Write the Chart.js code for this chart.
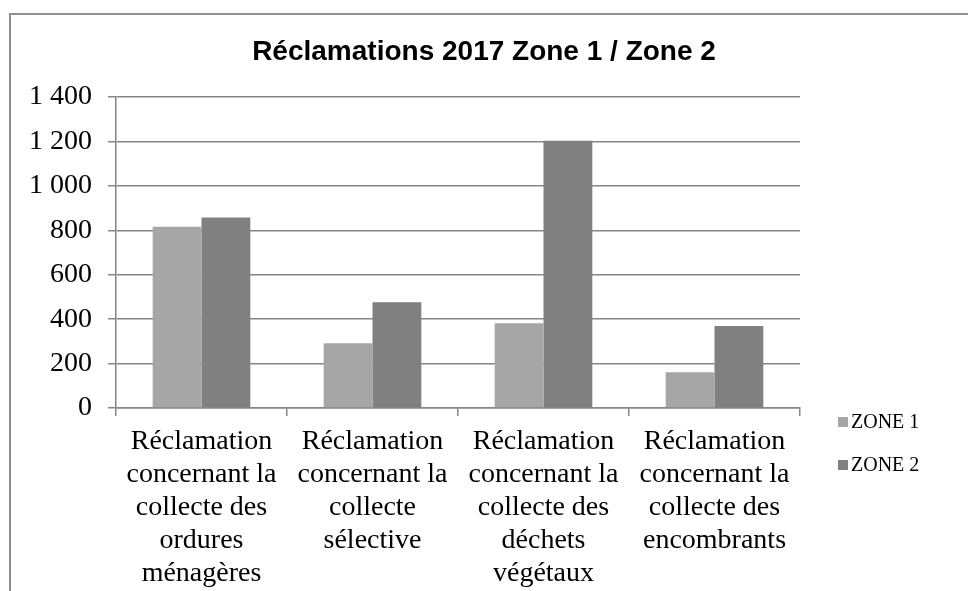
<!DOCTYPE html>
<html>
<head>
<meta charset="utf-8">
<script src="https://cdn.jsdelivr.net/npm/chart.js@4"></script>
<style>
  html, body { margin: 0; padding: 0; background: #fff; }
  #wrap { width: 968px; height: 591px; position: relative; }
</style>
</head>
<body>
<div id="wrap"><canvas id="c" width="968" height="591"></canvas></div>
<script>
const chartTitle = "Réclamations 2017 Zone 1 / Zone 2";
const categories = [
  ["Réclamation", "concernant la", "collecte des", "ordures", "ménagères"],
  ["Réclamation", "concernant la", "collecte", "sélective"],
  ["Réclamation", "concernant la", "collecte des", "déchets", "végétaux"],
  ["Réclamation", "concernant la", "collecte des", "encombrants"]
];
const seriesNames = ["ZONE 1", "ZONE 2"];
const zone1 = [816, 291, 381, 161];
const zone2 = [858, 476, 1203, 369];
const yTicks = [0, 200, 400, 600, 800, 1000, 1200, 1400];
const seriesColors = ["#a6a6a6", "#808080"];

function fmt(v) {
  return String(v).replace(/\B(?=(\d{3})+(?!\d))/g, " ");
}

const framePlugin = {
  id: "frame",
  beforeDraw(chart) {
    const ctx = chart.ctx;
    ctx.save();
    ctx.strokeStyle = "#8e8e8e";
    ctx.lineWidth = 2;
    ctx.strokeRect(10, 14, 2000, 2000);
    ctx.restore();
  }
};

const legendPlugin = {
  id: "customLegend",
  afterDraw(chart) {
    const ctx = chart.ctx;
    const ca = chart.chartArea;
    ctx.save();
    ctx.font = "20px 'Liberation Serif'";
    ctx.textBaseline = "middle";
    chart.data.datasets.forEach((ds, i) => {
      const y = ca.bottom + 14 + i * 43;
      const x = ca.right + 38;
      ctx.fillStyle = ds.backgroundColor;
      ctx.fillRect(x, y - 5, 10, 10);
      ctx.fillStyle = "#000";
      ctx.fillText(ds.label, x + 13, y + 1);
    });
    ctx.restore();
  }
};

new Chart(document.getElementById("c"), {
  type: "bar",
  data: {
    labels: categories,
    datasets: [
      { label: seriesNames[0], data: zone1, backgroundColor: seriesColors[0], yAxisID: "y" },
      { label: seriesNames[1], data: zone2, backgroundColor: seriesColors[1], yAxisID: "y" }
    ]
  },
  options: {
    responsive: false,
    animation: false,
    devicePixelRatio: 1,
    layout: { padding: { left: 0, right: 0, top: 0, bottom: 0 } },
    datasets: { bar: { categoryPercentage: 0.571, barPercentage: 1.0 } },
    plugins: {
      legend: { display: false },
      tooltip: { enabled: false },
      title: {
        display: true,
        text: chartTitle,
        color: "#000",
        font: { family: "'Liberation Sans', Arial, sans-serif", size: 28, weight: "bold", lineHeight: 1.2 },
        padding: { top: 35, bottom: 28.4 }
      }
    },
    scales: {
      x: {
        offset: true,
        afterFit(scale) { scale.height = 183; },
        grid: { display: true, offset: true, drawOnChartArea: false, drawTicks: true, tickLength: 8, color: "#868686", lineWidth: 1.5 },
        border: { display: true, color: "#868686", width: 1.5 },
        ticks: {
          color: "#000",
          font: { family: "'Liberation Serif', serif", size: 28, lineHeight: 1.18 },
          padding: 9,
          maxRotation: 0,
          autoSkip: false
        }
      },
      y: {
        min: 0,
        max: 1400,
        afterBuildTicks(scale) { scale.ticks = yTicks.map(v => ({ value: v })); },
        afterFit(scale) { scale.width = 116; },
        grid: { color: "#868686", lineWidth: 1.5, tickLength: 8, drawTicks: true },
        border: { display: true, color: "#868686", width: 1.5 },
        ticks: {
          color: "#000",
          font: { family: "'Liberation Serif', serif", size: 28 },
          padding: 16,
          callback: (v) => fmt(v)
        }
      },
      yRight: {
        position: "right",
        display: true,
        grid: { display: false },
        border: { display: false },
        ticks: { display: false },
        afterFit(scale) { scale.width = 168; }
      }
    }
  },
  plugins: [framePlugin, legendPlugin]
});
</script>
</body>
</html>
